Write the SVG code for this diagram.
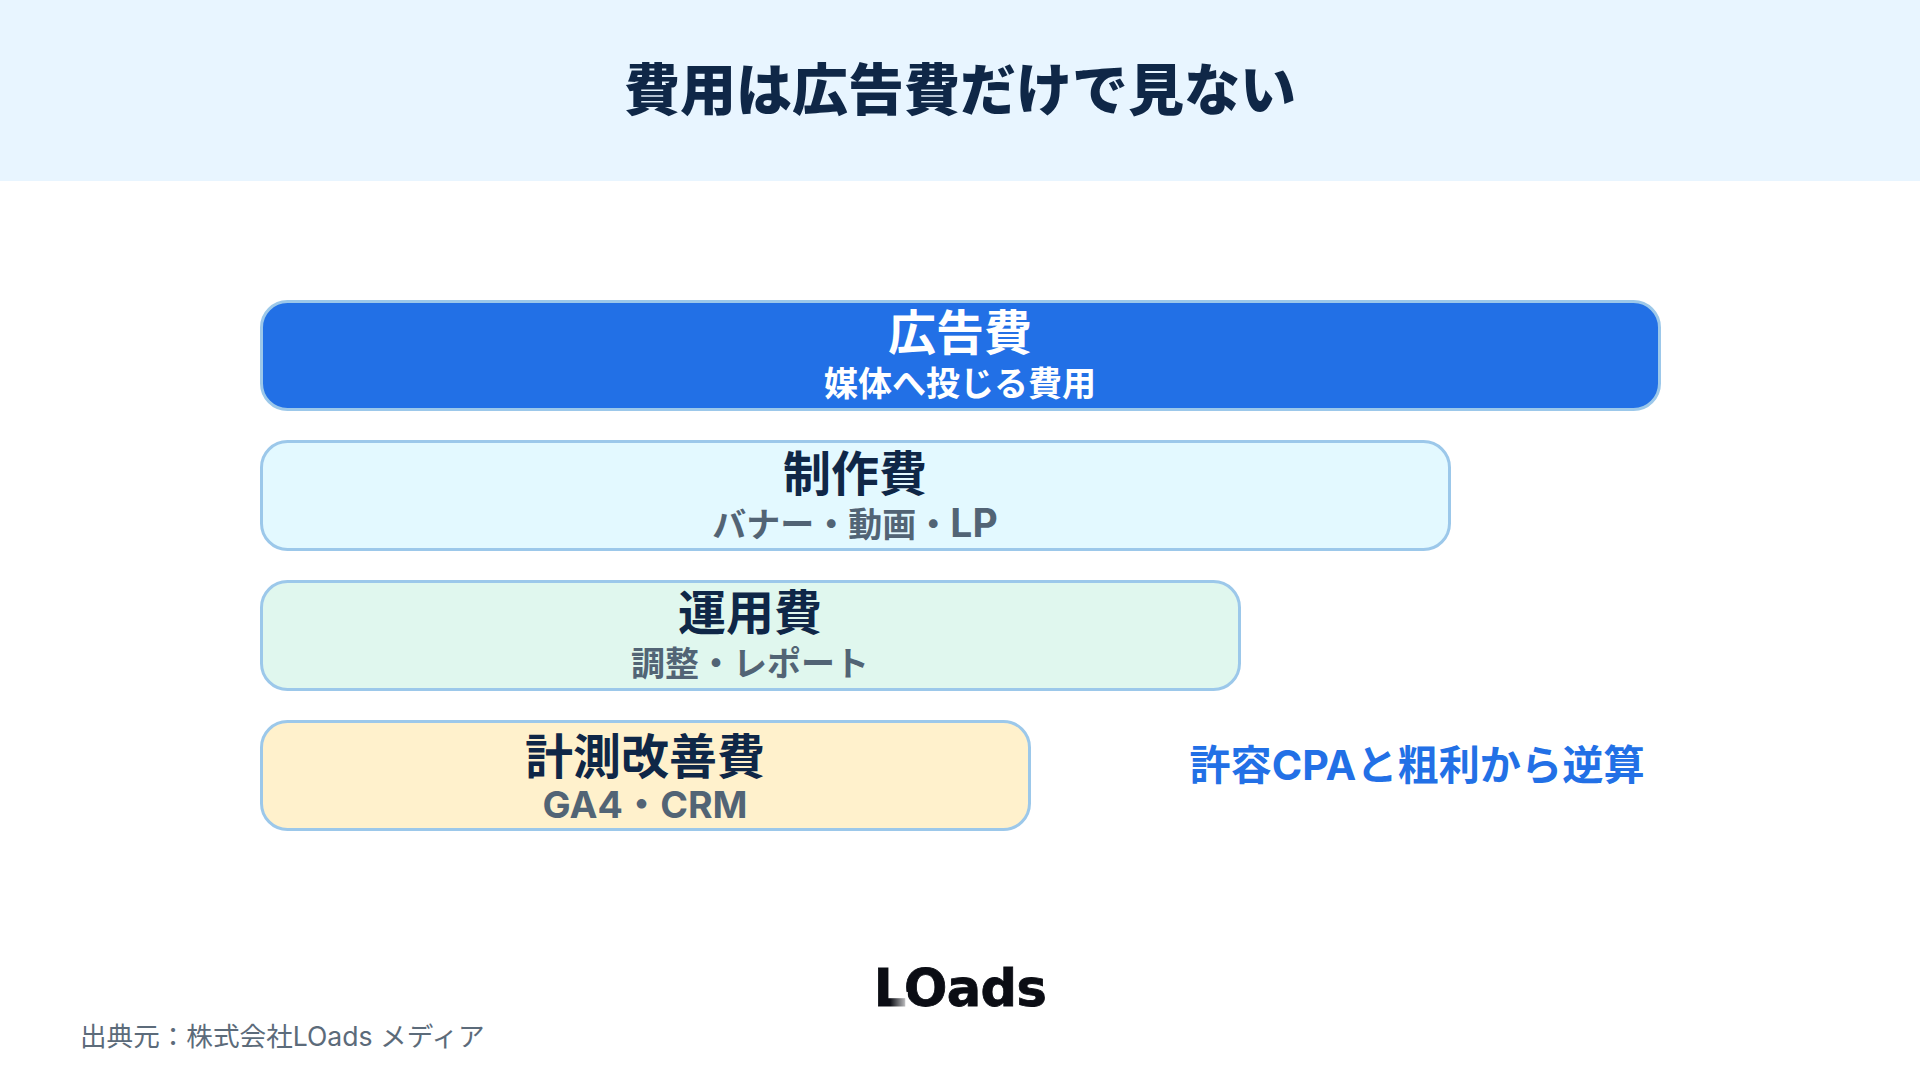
<svg xmlns="http://www.w3.org/2000/svg" width="1920" height="1080" viewBox="0 0 1920 1080">
<style>
text{font-family:Inter,"Noto Sans CJK JP",sans-serif;text-anchor:middle;font-weight:700}
.box{stroke:#9CC8EA;stroke-width:3}
.h{font-size:48px;fill:#0F2747}
.s{font-size:34px;fill:#526475}
</style>
<defs><linearGradient id="fade" x1="0" x2="1" y1="0" y2="0"><stop offset="0" stop-color="#fff" stop-opacity="0"/><stop offset="1" stop-color="#fff" stop-opacity=".85"/></linearGradient></defs>
<rect width="1920" height="1080" fill="#fff"/>
<g id="header"><rect width="1920" height="181" fill="#E8F5FF"/>
<text x="960" y="110" font-size="56" style="font-weight:900" fill="#0F2747">費用は広告費だけで見ない</text></g>
<g id="node-ad"><rect class="box" x="261.5" y="301.5" width="1398" height="108" rx="26" fill="#2270E6"/>
<text class="h" x="960" y="350" style="fill:#fff">広告費</text><text class="s" x="960" y="396" style="fill:#fff">媒体へ投じる費用</text></g>
<g id="node-production"><rect class="box" x="261.5" y="441.5" width="1188" height="108" rx="26" fill="#E3F9FF"/>
<text class="h" x="855" y="491">制作費</text><text class="s" x="855" y="537">バナー・動画・<tspan style="font-size:39px">LP</tspan></text></g>
<g id="node-operation"><rect class="box" x="261.5" y="581.5" width="978" height="108" rx="26" fill="#E0F7EE"/>
<text class="h" x="750" y="630">運用費</text><text class="s" x="750" y="676">調整・レポート</text></g>
<g id="node-measure"><rect class="box" x="261.5" y="721.5" width="768" height="108" rx="26" fill="#FFF1CC"/>
<text class="h" x="645" y="774">計測改善費</text><text class="s" x="645" y="818" style="font-size:37.5px">GA4・CRM</text></g>
<g id="note"><text x="1417" y="780" font-size="41.2" fill="#2270E6">許容CPAと粗利から逆算</text></g>
<g id="logo"><text x="960" y="1006" font-size="51" stroke="#0B0D14" stroke-width="0.8" style="font-family:'DejaVu Sans',sans-serif;font-weight:700;letter-spacing:-0.6px" fill="#0B0D14">LOads</text><rect x="890" y="992" width="18" height="16" fill="url(#fade)"/></g>
<g id="source"><text x="80" y="1046" font-size="26.6" style="text-anchor:start;font-weight:400" fill="#5C6B7A">出典元：株式会社LOads メディア</text></g>
</svg>
